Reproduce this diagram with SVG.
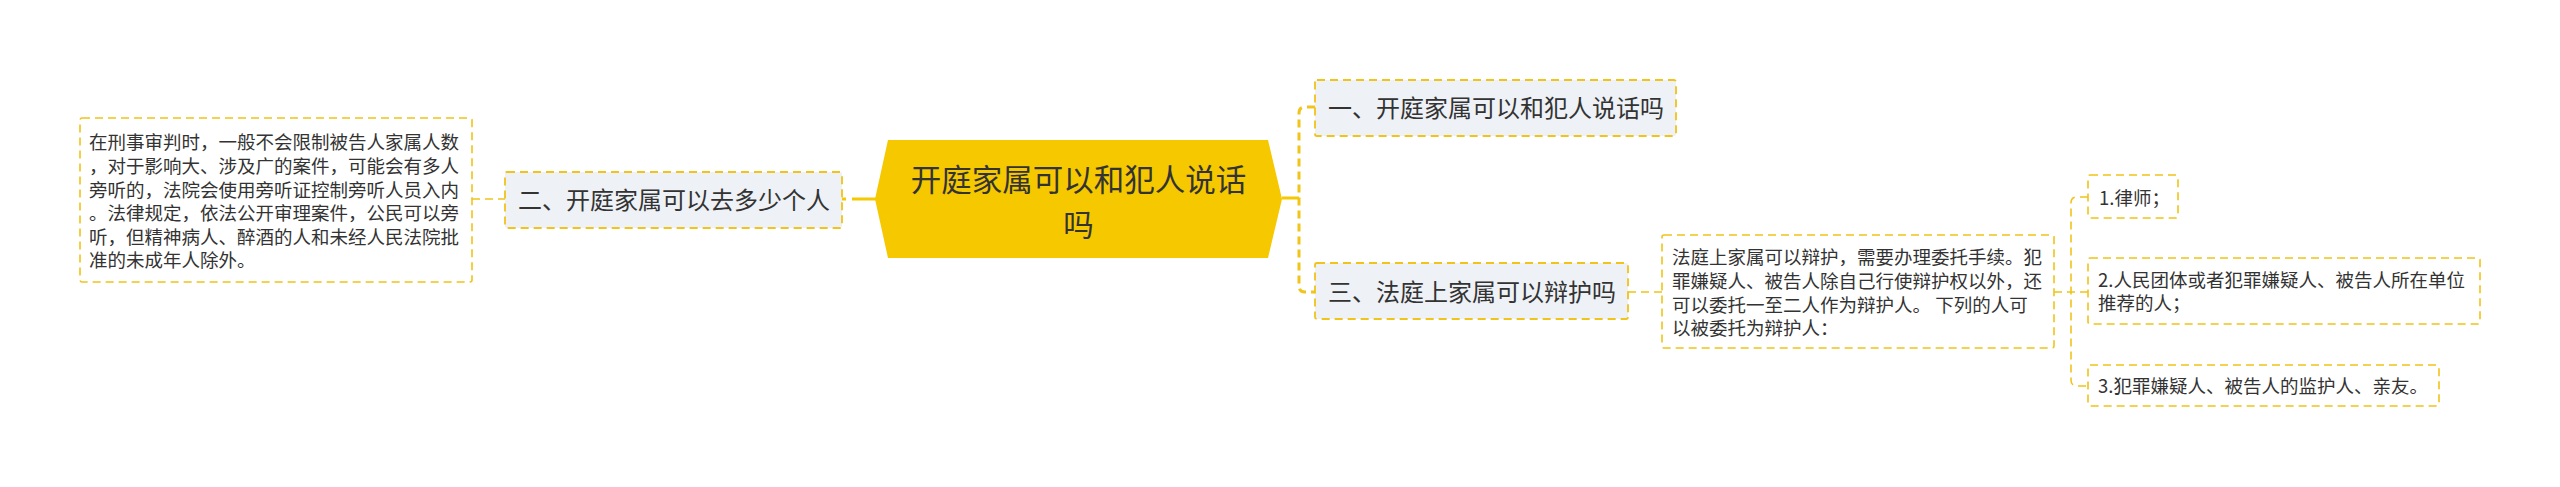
<svg xmlns="http://www.w3.org/2000/svg" width="2560" height="487" viewBox="0 0 2560 487">
<style>
text{font-family:"Noto Sans CJK SC","Noto Sans",sans-serif;fill:#333333;}
.t24{font-size:24px;}
.t18{font-size:18.5px;}
.t32{font-size:30.5px;}
.box{fill:#ffffff;stroke:#f0c419;stroke-width:1.6;stroke-dasharray:8 5;}
.l1{fill:#eef1f5;stroke:#f0c419;stroke-width:1.8;stroke-dasharray:8 5;}
.dl{fill:none;stroke:#f0c419;stroke-width:1.6;stroke-dasharray:8 5;}
.dm{fill:none;stroke:#f0c419;stroke-width:3;stroke-dasharray:8 5;}
.sl{fill:none;stroke:#f5c800;stroke-width:3;}
</style>
<rect width="2560" height="487" fill="#ffffff"/>
<g id="connectors">
<line class="dl" x1="472" y1="199" x2="505" y2="199"/>
<line class="sl" x1="852" y1="199" x2="877" y2="199"/>
<line class="sl" x1="842" y1="199" x2="846" y2="199"/>
<line class="sl" x1="1282" y1="198" x2="1299" y2="198"/>
<path class="dm" d="M1315,107 H1305 Q1299,107 1299,113 V286 Q1299,292 1305,292 H1315"/>
<line class="dl" x1="1628" y1="292" x2="1662" y2="292"/>
<line class="dl" x1="2054" y1="292" x2="2088" y2="292"/>
<path class="dl" d="M2088,197 H2077 Q2071,197 2071,203 V380 Q2071,386 2077,386 H2088"/>
</g>
<g id="root">
<polygon points="875,199 888,140 1268,140 1282,199 1268,258 888,258" fill="#f5c800"/>
<text class="t32" text-anchor="middle"><tspan x="1078.5" y="191">开庭家属可以和犯人说话</tspan><tspan x="1078.5" y="236">吗</tspan></text>
</g>
<g id="n2">
<rect class="l1" x="505" y="172" width="337" height="56" rx="2"/>
<text class="t24" x="518" y="209">二、开庭家属可以去多少个人</text>
</g>
<g id="n2-detail">
<rect class="box" x="80" y="118" width="392" height="164" rx="2"/>
<text class="t18" x="89" y="149">在刑事审判时，一般不会限制被告人家属人数</text>
<text class="t18" x="89" y="173">，对于影响大、涉及广的案件，可能会有多人</text>
<text class="t18" x="89" y="196.5">旁听的，法院会使用旁听证控制旁听人员入内</text>
<text class="t18" x="89" y="220">。法律规定，依法公开审理案件，公民可以旁</text>
<text class="t18" x="89" y="244">听，但精神病人、醉酒的人和未经人民法院批</text>
<text class="t18" x="89" y="267">准的未成年人除外。</text>
</g>
<g id="n1">
<rect class="l1" x="1315" y="80" width="361" height="56" rx="2"/>
<text class="t24" x="1328" y="117">一、开庭家属可以和犯人说话吗</text>
</g>
<g id="n3">
<rect class="l1" x="1315" y="263" width="313" height="56" rx="2"/>
<text class="t24" x="1328" y="301">三、法庭上家属可以辩护吗</text>
</g>
<g id="n3-detail">
<rect class="box" x="1662" y="235" width="392" height="113" rx="2"/>
<text class="t18" x="1672" y="264">法庭上家属可以辩护，需要办理委托手续。犯</text>
<text class="t18" x="1672" y="288">罪嫌疑人、被告人除自己行使辩护权以外，还</text>
<text class="t18" x="1672" y="312">可以委托一至二人作为辩护人。 下列的人可</text>
<text class="t18" x="1672" y="335">以被委托为辩护人：</text>
</g>
<g id="leaf1">
<rect class="box" x="2088" y="175" width="90" height="43" rx="2"/>
<text class="t18" x="2099" y="205">1.律师；</text>
</g>
<g id="leaf2">
<rect class="box" x="2088" y="258" width="392" height="66" rx="2"/>
<text class="t18" x="2098" y="287">2.人民团体或者犯罪嫌疑人、被告人所在单位</text>
<text class="t18" x="2098" y="310">推荐的人；</text>
</g>
<g id="leaf3">
<rect class="box" x="2088" y="365" width="351" height="41" rx="2"/>
<text class="t18" x="2098" y="393">3.犯罪嫌疑人、被告人的监护人、亲友。</text>
</g>
</svg>
